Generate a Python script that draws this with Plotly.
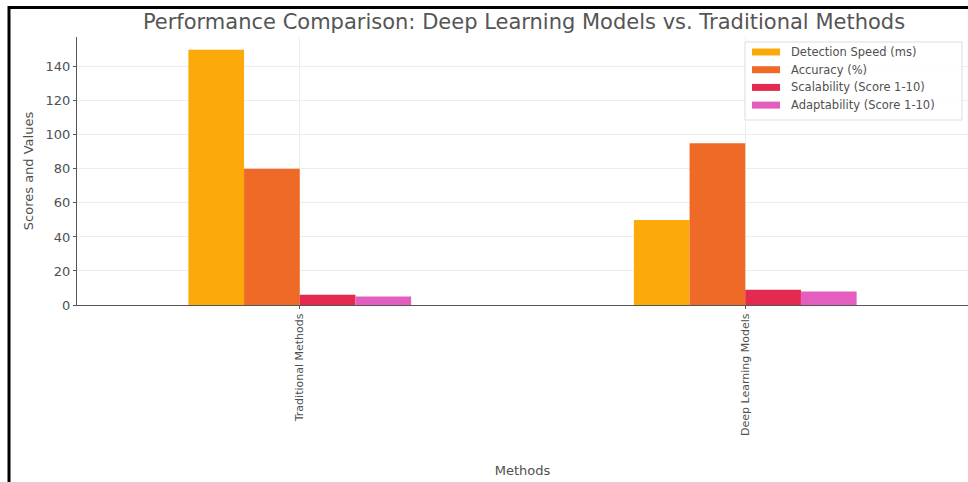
import plotly.graph_objects as go

# Chart data
methods = ["Traditional Methods", "Deep Learning Models"]
series_names = [
    "Detection Speed (ms)",
    "Accuracy (%)",
    "Scalability (Score 1-10)",
    "Adaptability (Score 1-10)",
]
detection_speed = [150, 50]
accuracy = [80, 95]
scalability = [6, 9]
adaptability = [5, 8]
y_ticks = [0, 20, 40, 60, 80, 100, 120, 140]

colors = ["#FBAA0A", "#EE6A26", "#E52A50", "#E35EBE"]
values = [detection_speed, accuracy, scalability, adaptability]

W, H = 968, 482
M_L, M_R, M_T, M_B = 77, 0, 37, 177
PW, PH = W - M_L - M_R, H - M_T - M_B


def px_x(p):
    return (p - M_L) / PW


def px_y(p):
    return 1 - (p - M_T) / PH


fig = go.Figure()
for name, vals, col in zip(series_names, values, colors):
    fig.add_trace(go.Bar(x=methods, y=vals, name=name, marker=dict(color=col, line=dict(width=0)),
                         showlegend=False))

font = "DejaVu Sans, Liberation Sans, sans-serif"
txt = "#505050"

fig.update_layout(
    width=W, height=H,
    margin=dict(l=M_L, r=M_R, t=M_T, b=M_B, autoexpand=False),
    paper_bgcolor="white", plot_bgcolor="white",
    barmode="group", bargap=0.5, bargroupgap=0,
    font=dict(family=font, color=txt, size=11),
    title=dict(text="Performance Comparison: Deep Learning Models vs. Traditional Methods",
               x=px_x(524), xanchor="center", xref="paper",
               y=1 - 22 / H, yanchor="middle",
               font=dict(size=21, color="#555555", family=font)),
    xaxis=dict(
        type="category", range=[-0.5, 1.5],
        showline=True, linecolor="#555555", linewidth=1.2,
        showgrid=True, gridcolor="#ededed", gridwidth=1,
        ticks="outside", ticklen=3, tickcolor="#555555",
        tickangle=-90, tickfont=dict(size=11, color=txt),
        title=dict(text="Methods", font=dict(size=13, color=txt), standoff=30),
        zeroline=False,
    ),
    yaxis=dict(
        range=[0, 157.5], tickvals=y_ticks,
        showline=True, linecolor="#555555", linewidth=1.2,
        showgrid=True, gridcolor="#ededed", gridwidth=1,
        ticks="outside", ticklen=3, tickcolor="#555555",
        tickfont=dict(size=13, color=txt),
        title=dict(text="Scores and Values", font=dict(size=13, color=txt), standoff=8),
        zeroline=False,
    ),
)

shapes = []
annotations = []

# Outer frame lines (left and top)
shapes.append(dict(type="line", xref="paper", yref="paper",
                   x0=px_x(9), x1=px_x(9), y0=px_y(6), y1=px_y(H + 5),
                   line=dict(color="black", width=3)))
shapes.append(dict(type="line", xref="paper", yref="paper",
                   x0=px_x(8), x1=px_x(W + 5), y0=px_y(7.5), y1=px_y(7.5),
                   line=dict(color="black", width=3)))

# Legend box
lx0, lx1, ly0, ly1 = 745, 962, 42, 120
shapes.append(dict(type="rect", xref="paper", yref="paper",
                   x0=px_x(lx0), x1=px_x(lx1), y0=px_y(ly0), y1=px_y(ly1),
                   line=dict(color="#dddddd", width=1), fillcolor="rgba(255,255,255,0.85)"))
for i, (name, col) in enumerate(zip(series_names, colors)):
    cy = 52 + i * 17.7
    shapes.append(dict(type="rect", xref="paper", yref="paper",
                       x0=px_x(752), x1=px_x(780), y0=px_y(cy - 3.5), y1=px_y(cy + 3.5),
                       line=dict(width=0), fillcolor=col))
    annotations.append(dict(xref="paper", yref="paper", x=px_x(789), y=px_y(cy),
                            xanchor="left", yanchor="middle", text=name, showarrow=False,
                            font=dict(size=11.5, color="#505050", family=font)))

fig.update_layout(shapes=shapes, annotations=annotations)

fig.write_html("out.html")
